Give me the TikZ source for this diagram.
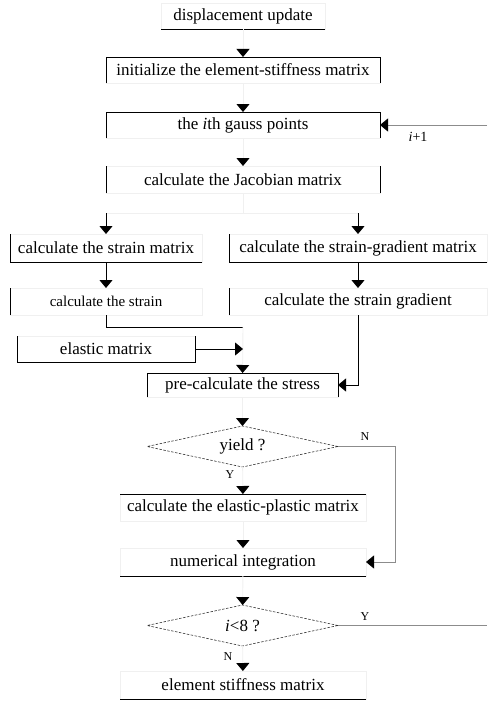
\documentclass[tikz,border=0pt]{standalone}
\usepackage{fontspec}
\setmainfont{Liberation Serif}
\usetikzlibrary{arrows.meta,shapes.geometric}

\begin{document}
\begin{tikzpicture}[x=1pt,y=-1pt]
\tikzset{ >={Triangle[width=13pt,length=8pt,color=black]}, inner sep=0pt, outer sep=0pt,
  box/.style={draw=black!6, line width=0.9pt, font=\fontsize{17}{20}\selectfont},
  test/.style={diamond, draw=black!80, dash pattern=on 2.5pt off 1.5pt, line width=0.6pt,
    minimum width=191pt, minimum height=41pt, aspect=4.6, font=\fontsize{17}{20}\selectfont},
  edge/.style={black, line width=0.9pt},
  faint/.style={black!6, line width=0.9pt},
  back/.style={black!45, line width=0.9pt},
  lab/.style={font=\fontsize{12}{14}\selectfont},
}
\useasboundingbox (0,0) rectangle (487,701);
%\draw [lightgray, dashed](0,0) grid[step=50] (487,701);

\node [box, minimum width=164pt, minimum height=26pt] (disp)  at (243,16)    {displacement update};
\node [box, minimum width=274pt, minimum height=26pt] (init)  at (243,70)    {initialize the element-stiffness matrix};
\node [box, minimum width=274pt, minimum height=26pt] (gauss) at (243,125)   {the \textit{i}th gauss points};
\node [box, minimum width=274pt, minimum height=27pt] (jac)   at (243,179.5) {calculate the Jacobian matrix};

\node [box, minimum width=192pt, minimum height=28pt] (sm)  at (106,248)   {calculate the strain matrix};
\node [box, minimum width=258pt, minimum height=28pt] (sgm) at (358,248)   {calculate the strain-gradient matrix};
\node [box, minimum width=192pt, minimum height=27pt, font=\fontsize{15}{18}\selectfont] (st) at (106,301.5) {calculate the strain};
\node [box, minimum width=258pt, minimum height=27pt] (sg)  at (358,301.5) {calculate the strain gradient};
\node [box, minimum width=178pt, minimum height=26pt] (el)  at (106,349)   {elastic matrix};

\node [box, minimum width=191pt, minimum height=24pt] (pre) at (242.5,385) {pre-calculate the stress};
\node [test] (yield) at (242.5,446.5) {yield ?};
\node [box, minimum width=246pt, minimum height=27pt] (ep)  at (243,507.5) {calculate the elastic-plastic matrix};
\node [box, minimum width=246pt, minimum height=28pt] (ni)  at (243,562)   {numerical integration};
\node [test] (ieight) at (242.5,625.5) {\textit{i}<8 ?};
\node [box, minimum width=246pt, minimum height=28pt] (esm) at (243,685)   {element stiffness matrix};

% edges that show dark
\draw [edge] (disp.south west) -- (disp.south east);
\draw [edge] (init.south west) -- (init.north west) -- (init.north east) -- (init.south east);
\draw [edge] (gauss.south west) -- (gauss.north west) -- (gauss.north east) -- (gauss.south east);
\draw [edge] (jac.south west) -- (jac.north west);
\draw [edge] (jac.south east) -- (jac.north east);
\draw [edge] (sm.north west) -- (sm.south west) -- (sm.south east);
\draw [edge] (sgm.north west) -- (sgm.south west) -- (sgm.south east);
\draw [edge] (st.north west) -- (st.south west);
\draw [edge] (sg.north west) -- (sg.south west);
\draw [edge] (el.north west) -- (el.south west) -- (el.south east) -- (el.north east);
\draw [edge] (pre.south west) -- (pre.north west) -- (pre.north east) -- (pre.south east);
\draw [edge] (ep.north west) -- (ep.north east);
\draw [edge] (ni.south west) -- (ni.south east);
\draw [edge] (esm.south west) -- (esm.south east);

\coordinate (jl) at (106,213);
\coordinate (jm) at (243,213);
\coordinate (jr) at (358,213);
\coordinate (merge) at (243,327);
\coordinate (elin) at (243,349);
\coordinate (nturn) at (395,446.5);
\coordinate (yout) at (487,625.5);
\coordinate (yin) at (487,125);

\draw [->, faint] (disp) -- (init);
\draw [->, faint] (init) -- (gauss);
\draw [->, faint] (gauss) -- (jac);
\draw [faint] (jac) -- (jm);
\draw [faint] (jl) -- (jr);
\draw [->, edge] (jl) -- (sm);
\draw [->, edge] (jr) -- (sgm);
\draw [->, edge] (sm) -- (st);
\draw [->, edge] (sgm) -- (sg);

\draw [edge] (st.south) |- (merge);
\draw [->, faint] (merge) -- (pre);
\draw [->, edge] (el) -- (elin);
\draw [->, edge] (sg.south) |- (pre.east);

\draw [->, faint] (pre) -- (yield);
\draw [->, faint] (yield) -- (ep);
\draw [->, back] (yield.east) -- (nturn) |- (ni.east);
\draw [->, faint] (ep) -- (ni);
\draw [->, faint] (ni) -- (ieight);
\draw [back] (ieight.east) -- (yout);
\draw [->, faint] (ieight) -- (esm);
\draw [->, back] (yin) -- (gauss.east);

\node [lab] (ly1) at (365,437) {N};
\node [lab] (ly2) at (230,475) {Y};
\node [lab] (li1) at (365,617) {Y};
\node [lab] (li2) at (228,657) {N};
\node [lab, font=\fontsize{14}{16}\selectfont] (lnext) at (418,137) {\textit{i}+1};

\end{tikzpicture}
\end{document}
